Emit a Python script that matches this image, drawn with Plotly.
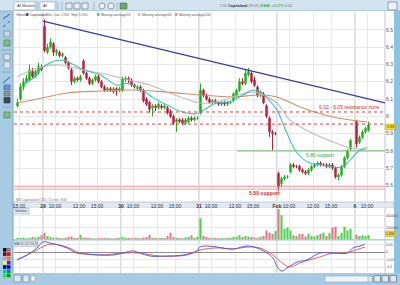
import plotly.graph_objects as go

W, H = 400, 285
FONT = "Liberation Sans"


def px(x):
    return x / W


def py(y):
    return 1 - y / H


# ---------------- data (15-minute bars, index 0 = 29th 09:00) ----------------
bar_index = list(range(-9, 103)) + list(range(104, 109))

opens = (
    [6.06, 6.10, 6.17, 6.20, 6.21, 6.26, 6.23, 6.25, 6.28]
    + [6.52, 6.37, 6.40, 6.42, 6.37, 6.37, 6.35, 6.34, 6.31, 6.27, 6.20, 6.22, 6.21,
       6.32, 6.25, 6.22, 6.19, 6.21, 6.23, 6.20, 6.17, 6.15, 6.16, 6.14, 6.16, 6.15]
    + [6.15, 6.21, 6.22, 6.21, 6.18, 6.16, 6.17, 6.15, 6.10, 6.08, 6.05, 6.06, 6.05,
       6.06, 6.05, 6.05, 6.03, 6.00, 5.97, 5.98, 5.98, 5.96, 5.97, 5.99, 5.98, 5.99]
    + [6.02, 6.15, 6.12, 6.10, 6.08, 6.09, 6.08, 6.07, 6.08, 6.07, 6.08, 6.09, 6.12,
       6.15, 6.20, 6.19, 6.24, 6.25, 6.21, 6.17, 6.13, 6.13, 6.06, 5.99, 5.91, 5.90]
    + [5.67, 5.61, 5.64, 5.65, 5.68, 5.72, 5.71, 5.71, 5.69, 5.68, 5.67, 5.69, 5.71,
       5.72, 5.73, 5.72, 5.72, 5.71, 5.72, 5.70, 5.65, 5.66, 5.71, 5.76, 5.81]
    + [5.97, 5.85, 5.88, 5.91, 5.92]
)
highs = (
    [6.10, 6.19, 6.22, 6.24, 6.30, 6.28, 6.27, 6.31, 6.30]
    + [6.56, 6.42, 6.45, 6.43, 6.39, 6.38, 6.37, 6.35, 6.32, 6.28, 6.23, 6.23, 6.24,
       6.33, 6.26, 6.23, 6.22, 6.24, 6.24, 6.21, 6.18, 6.17, 6.17, 6.17, 6.17, 6.17]
    + [6.23, 6.23, 6.23, 6.22, 6.19, 6.18, 6.18, 6.16, 6.11, 6.09, 6.07, 6.07, 6.08,
       6.07, 6.07, 6.06, 6.04, 6.01, 5.99, 5.99, 5.99, 5.99, 6.00, 6.00, 6.00, 6.00]
    + [6.19, 6.16, 6.13, 6.11, 6.10, 6.10, 6.09, 6.09, 6.09, 6.09, 6.09, 6.14, 6.16,
       6.22, 6.22, 6.27, 6.28, 6.26, 6.23, 6.18, 6.15, 6.14, 6.07, 6.00, 5.92, 5.91]
    + [5.68, 5.65, 5.66, 5.66, 5.73, 5.73, 5.72, 5.72, 5.70, 5.69, 5.70, 5.72, 5.73,
       5.74, 5.74, 5.73, 5.73, 5.73, 5.73, 5.71, 5.67, 5.72, 5.77, 5.81, 5.87]
    + [5.98, 5.89, 5.92, 5.94, 5.97]
)
lows = (
    [6.05, 6.09, 6.15, 6.19, 6.20, 6.22, 6.22, 6.24, 6.26]
    + [6.37, 6.36, 6.39, 6.35, 6.35, 6.34, 6.34, 6.30, 6.27, 6.18, 6.19, 6.20, 6.20,
       6.24, 6.21, 6.18, 6.18, 6.20, 6.19, 6.16, 6.14, 6.14, 6.14, 6.13, 6.12, 6.14]
    + [6.14, 6.20, 6.19, 6.17, 6.16, 6.15, 6.14, 6.08, 6.06, 6.02, 6.00, 6.03, 6.04,
       6.04, 6.04, 6.01, 5.99, 5.95, 5.91, 5.96, 5.95, 5.95, 5.96, 5.97, 5.97, 5.98]
    + [6.01, 6.11, 6.09, 6.07, 6.07, 6.07, 6.06, 6.06, 6.06, 6.06, 6.07, 6.08, 6.11,
       6.14, 6.18, 6.18, 6.23, 6.19, 6.17, 6.11, 6.11, 6.07, 5.99, 5.88, 5.80, 5.89]
    + [5.57, 5.59, 5.63, 5.64, 5.67, 5.70, 5.70, 5.68, 5.67, 5.66, 5.66, 5.68, 5.70,
       5.71, 5.71, 5.71, 5.70, 5.70, 5.69, 5.64, 5.63, 5.65, 5.70, 5.75, 5.80]
    + [5.82, 5.84, 5.87, 5.90, 5.91]
)
closes = (
    [6.08, 6.17, 6.20, 6.22, 6.27, 6.23, 6.26, 6.29, 6.27]
    + [6.38, 6.40, 6.43, 6.37, 6.38, 6.35, 6.36, 6.31, 6.28, 6.20, 6.22, 6.21, 6.23,
       6.25, 6.22, 6.19, 6.21, 6.23, 6.20, 6.17, 6.15, 6.16, 6.15, 6.16, 6.15, 6.16]
    + [6.22, 6.22, 6.21, 6.18, 6.17, 6.17, 6.15, 6.09, 6.07, 6.04, 6.06, 6.05, 6.07,
       6.05, 6.06, 6.02, 6.00, 5.96, 5.98, 5.97, 5.96, 5.98, 5.99, 5.98, 5.99, 5.99]
    + [6.15, 6.12, 6.10, 6.08, 6.09, 6.08, 6.07, 6.08, 6.07, 6.08, 6.08, 6.13, 6.15,
       6.20, 6.19, 6.25, 6.26, 6.20, 6.18, 6.12, 6.14, 6.08, 6.00, 5.91, 5.90, 5.90]
    + [5.59, 5.64, 5.65, 5.65, 5.72, 5.71, 5.71, 5.69, 5.68, 5.67, 5.69, 5.71, 5.72,
       5.73, 5.72, 5.72, 5.71, 5.72, 5.70, 5.65, 5.66, 5.71, 5.76, 5.80, 5.86]
    + [5.84, 5.88, 5.91, 5.93, 5.95]
)
volumes_k = (
    [30, 25, 35, 20, 30, 40, 35, 45, 70]
    + [110, 60, 40, 30, 35, 25, 20, 30, 40, 50, 30, 25, 80,
       35, 30, 25, 20, 15, 25, 20, 30, 25, 20, 15, 25, 30]
    + [40, 30, 25, 20, 30, 25, 20, 35, 40, 80, 30, 25, 20,
       30, 25, 60, 110, 40, 30, 25, 20, 35, 40, 70, 30, 45]
    + [350, 60, 40, 30, 25, 30, 20, 25, 20, 30, 25, 40, 50,
       70, 40, 60, 50, 40, 35, 30, 45, 60, 150, 110, 90, 140]
    + [500, 400, 180, 200, 150, 70, 60, 90, 90, 50, 90, 60, 50,
       70, 90, 110, 60, 110, 200, 210, 60, 110, 210, 150, 180]
    + [80, 60, 70, 60, 70]
)

ma20_x = [-6.5, -3.2, -0.8, 1.8, 5.8, 8.5, 12.8, 18.5, 24.2, 27.5, 31.8, 36.5, 41.5,
          46.0, 50.5, 53.5, 57.0, 61.8, 66.2, 69.5, 72.0, 74.2, 77.5, 80.8, 84.2, 88.5,
          91.8, 96.2, 99.5, 101.8, 105.2, 107.5]
ma20_y = [6.19, 6.23, 6.28, 6.31, 6.325, 6.31, 6.27, 6.24, 6.18, 6.19, 6.16, 6.105, 6.06,
          6.025, 6.015, 6.04, 6.075, 6.085, 6.123, 6.152, 6.14, 6.106, 6.036, 5.903, 5.788,
          5.73, 5.72, 5.707, 5.707, 5.747, 5.805, 5.82]
ma50_x = [-9.2, -1.5, 5.2, 12.8, 18.5, 24.2, 29.5, 35.2, 40.8, 46.2, 51.8, 57.5, 62.8,
          68.5, 72.5, 77.5, 81.8, 88.5, 96.2, 100.8, 104.2, 107.5]
ma50_y = [6.227, 6.285, 6.297, 6.268, 6.25, 6.227, 6.204, 6.181, 6.14, 6.106, 6.077,
          6.083, 6.112, 6.14, 6.128, 6.077, 5.979, 5.909, 5.851, 5.823, 5.811, 5.805]
ma200_x = [-9.2, -3.8, 7.5, 18.5, 29.5, 40.8, 51.8, 62.8, 71.8, 77.5, 85.2, 96.2, 107.5]
ma200_y = [6.077, 6.094, 6.135, 6.146, 6.152, 6.14, 6.123, 6.112, 6.123, 6.112, 6.054,
           5.996, 5.967]

macd_x = [-9.2, -5.8, -2.5, -0.5, 1.8, 4.5, 7.5, 10.8, 14.2, 18.5, 22.8, 26.2, 29.5,
          31.8, 35.2, 40.8, 46.2, 50.8, 51.8, 54.2, 57.5, 62.8, 67.5, 70.8, 74.2, 76.2,
          77.8, 79.2, 80.8, 84.2, 87.5, 91.8, 96.2, 100.8, 102.8, 105.2, 106.8]
macd_y = [-0.053, -0.02, 0.027, 0.067, 0.06, 0.047, 0.027, -0.007, -0.013, -0.02, -0.02,
          -0.007, 0.007, -0.007, -0.027, -0.027, -0.02, 0.007, 0.033, 0.04, 0.033, 0.02,
          0.04, 0.027, -0.007, -0.04, -0.107, -0.127, -0.107, -0.067, -0.053, -0.007,
          -0.007, -0.007, 0.027, 0.04, 0.053]
signal_x = [-9.2, -3.8, 0.8, 2.8, 7.5, 11.8, 18.5, 26.2, 31.8, 38.5, 47.5, 51.8, 57.5,
            62.8, 67.8, 71.8, 76.2, 79.2, 81.8, 85.2, 91.8, 96.2, 100.8, 102.8, 106.8]
signal_y = [-0.053, 0.0, 0.047, 0.053, 0.033, -0.007, -0.02, -0.007, -0.007, -0.027,
            -0.02, 0.013, 0.027, 0.02, 0.033, 0.027, -0.02, -0.073, -0.1, -0.073, -0.033,
            -0.007, -0.007, 0.007, 0.033]

day_labels = ["29", "30", "31", "Feb", "6"]
hour_labels = [("10:00", 4), ("12:00", 12), ("15:00", 18)]
price_ticks = [5.6, 5.7, 5.8, 5.9, 6.0, 6.1, 6.2, 6.3, 6.4, 6.5]
price_tick_text = ["5.6", "5.7", "5.8", "5.9", "6", "6.1", "6.2", "6.3", "6.4", "6.5"]
vol_ticks = [200000, 400000]
vol_tick_text = ["200000", "400000"]
macd_ticks = [0.05, 0.0, -0.05, -0.1]
macd_tick_text = ["0.05", "0", "-0.05", "-0.1"]

resistance_levels = [6.025, 5.955]
support_level = 5.80
low_support_levels = [5.593, 5.579]
trend_start = (-0.5, 6.55)
trend_end = (113.5, 6.077)
last_price = "5.93"

X_RANGE = [-10.17, 113.5]
BARS_PER_DAY = 26

# ---------------- ticks ----------------
tick_vals = [-0.5 - BARS_PER_DAY + 18]
tick_text = ["15:00"]
day_bounds = []
for d, lab in enumerate(day_labels):
    base = -0.5 + BARS_PER_DAY * d
    day_bounds.append(base)
    tick_vals.append(base)
    tick_text.append("<b>%s</b>" % lab)
    for hl, off in hour_labels:
        if base + off < X_RANGE[1] - 2:
            tick_vals.append(base + off)
            tick_text.append(hl)

# ---------------- traces ----------------
fig = go.Figure()
fig.add_trace(go.Candlestick(
    x=bar_index, open=opens, high=highs, low=lows, close=closes,
    increasing=dict(line=dict(color="#16b416", width=1), fillcolor="#16b416"),
    decreasing=dict(line=dict(color="#c41a3a", width=1), fillcolor="#c41a3a"),
    whiskerwidth=0, xaxis="x", yaxis="y", hoverinfo="skip", showlegend=False))
fig.add_trace(go.Scatter(x=ma200_x, y=ma200_y, mode="lines", xaxis="x", yaxis="y",
                         line=dict(color="#cf8f6a", width=1.1, shape="spline"), hoverinfo="skip"))
fig.add_trace(go.Scatter(x=ma50_x, y=ma50_y, mode="lines", xaxis="x", yaxis="y",
                         line=dict(color="#bdbdbd", width=1.1, shape="spline"), hoverinfo="skip"))
fig.add_trace(go.Scatter(x=ma20_x, y=ma20_y, mode="lines", xaxis="x", yaxis="y",
                         line=dict(color="#3dbdbd", width=1.1, shape="spline"), hoverinfo="skip"))

vol_colors = ["#4fd04f" if c >= o else "#dd7a8a" for o, c in zip(opens, closes)]
fig.add_trace(go.Bar(x=bar_index, y=[v * 1000 for v in volumes_k], marker_color=vol_colors,
                     marker_line_width=0, width=0.7, xaxis="x2", yaxis="y2", hoverinfo="skip"))

fig.add_trace(go.Scatter(x=signal_x, y=signal_y, mode="lines", xaxis="x3", yaxis="y3",
                         line=dict(color="#e06464", width=1, shape="spline"), hoverinfo="skip"))
fig.add_trace(go.Scatter(x=macd_x, y=macd_y, mode="lines", xaxis="x3", yaxis="y3",
                         line=dict(color="#5858e0", width=1, shape="spline"), hoverinfo="skip"))

# ---------------- chrome shapes ----------------
shapes = []


def rect(x0, y0, x1, y1, fill, line=None, lw=0, layer="below"):
    shapes.append(dict(type="rect", xref="paper", yref="paper", x0=px(x0), x1=px(x1),
                       y0=py(y1), y1=py(y0), fillcolor=fill,
                       line=dict(color=line or fill, width=lw), layer=layer))


def pline(x0, y0, x1, y1, color, lw=1, dash="solid", layer="below"):
    shapes.append(dict(type="line", xref="paper", yref="paper", x0=px(x0), x1=px(x1),
                       y0=py(y0), y1=py(y1), line=dict(color=color, width=lw, dash=dash),
                       layer=layer))


# top toolbar
rect(0, 0, 400, 11, "#d3e3f0")
pline(0, 11, 400, 11, "#8fb3cf")
rect(14, 2, 38, 10, "white", "#8aa4ba", 0.6)
rect(34.5, 2.5, 38, 9.5, "#b3d0e8")
rect(40, 2, 58, 10, "white", "#8aa4ba", 0.6)
rect(54.5, 2.5, 58, 9.5, "#b3d0e8")
pline(62, 2, 62, 10, "#9fb8cc")
rect(66, 3, 72, 9, "#e6edf3", "#5d6d7d", 0.6)
rect(74, 3, 80, 9, "#e6edf3", "#5d6d7d", 0.6)
rect(82, 3, 88, 9, "#e6edf3", "#5d6d7d", 0.6)
pline(94, 2, 94, 10, "#9fb8cc")
shapes.append(dict(type="circle", xref="paper", yref="paper", x0=px(99), x1=px(105),
                   y0=py(9), y1=py(3), fillcolor="#eef2f6", line=dict(color="#5d6d7d", width=0.6)))
shapes.append(dict(type="circle", xref="paper", yref="paper", x0=px(108), x1=px(114),
                   y0=py(9), y1=py(3), fillcolor="#eef2f6", line=dict(color="#5d6d7d", width=0.6)))
pline(117, 2, 117, 10, "#9fb8cc")
rect(120, 3, 127, 9, "#6aa86a", "#4a7a4a", 0.6)
rect(388, 2, 397, 10, "#eef2f6", "#5d6d7d", 0.6)

# main white panes
rect(13, 11, 394, 202, "white")
rect(13, 202, 394, 207.5, "#e1e9f1", "#9fb8cc", 0.6)
rect(13, 207.5, 394, 239.5, "white")
rect(13, 239.5, 394, 240.5, "#9fb8cc")
rect(13, 240.5, 394, 273, "white")
rect(394, 11, 400, 273, "#8ec2e2")
pline(13, 11, 13, 273, "#7fa6c4", 1)
for y0, y1 in [(11, 202), (207.5, 239.5), (240.5, 273)]:
    pline(385, y0, 385, y1, "#a9b9c7", 0.8)

# left toolbar icons
pline(3, 19, 10, 14, "#2f4fbf", 1)
pline(3, 27, 10, 21, "#2f4fbf", 1, "dot")
rect(4, 31, 10, 37, "#c9d5e0", "#6b7d8f", 0.6)
rect(4, 40, 10, 46, "#7cc07c", "#3f7f3f", 0.6)
for yy in [50, 72, 107]:
    pline(2, yy, 11, yy, "#7fa6c4", 0.8)
rect(4, 54, 10, 60, "#dde4ea", "#6b7d8f", 0.6)
rect(4, 62, 10, 68, "#dde4ea", "#8a98a6", 0.6)
pline(3, 83, 10, 77, "#2f4fbf", 1)
rect(4, 85, 10, 90, "#6f8fd6", "#3f5fa6", 0.6)
rect(4, 91.5, 10, 96, "#8b949d", "#59626b", 0.6)
rect(4, 97.5, 10, 103, "#3f4850", "#2a3038", 0.6)
rect(4, 112, 10, 118, "#7cc07c", "#3f7f3f", 0.6)
palette = [("#000000", "#808080"), ("#800000", "#ff0000"), ("#ff80c0", "#ff8000"),
           ("#ffff00", "#8000ff"), ("#000080", "#0000ff"), ("#00c0c0", "#008080"),
           ("#00ff00", "#00a000")]
for k, (c1, c2) in enumerate(palette):
    yy = 248 + 4.3 * k
    rect(3, yy, 6.5, yy + 3.6, c1)
    rect(7, yy, 10.5, yy + 3.6, c2)

# bottom bar
rect(14, 275, 21, 282, "#dfe8ef", "#6b7d8f", 0.6)
rect(23, 275, 29, 282, "#dfe8ef", "#6b7d8f", 0.6)
rect(31, 276, 35, 281, "white", "#8aa4ba", 0.6)
rect(325, 276, 372, 282, "#eef3f8", "#90a8c0", 0.6)
rect(368, 276, 372, 282, "#d9e6f1", "#90a8c0", 0.6)
for xx in [374, 382, 390]:
    rect(xx, 275.5, xx + 6.5, 282, "#dfe8ef", "#4d5d6d", 0.6)

# pane labels
rect(13, 208, 29, 214, "#dfe9f3", "#9bb3c8", 0.6)
rect(13, 241, 38, 246.5, "#dfe9f3", "#9bb3c8", 0.6)

# legend squares
for x0, c in [(26, "#404040"), (97, "#3dbdbd"), (138, "#bdbdbd"), (175, "#cf8f6a")]:
    rect(x0, 13.2, x0 + 2.5, 15.8, c, layer="above")

# yellow last-value tags
rect(385.5, 124, 395, 129.8, "#f3df2a", "#b09a10", 0.5, layer="above")
rect(385.5, 231, 395, 236.5, "#f3df2a", "#b09a10", 0.5, layer="above")

# day separators in all panes
for b in day_bounds:
    for xr, yr in [("x", "y domain"), ("x2", "y2 domain"), ("x3", "y3 domain")]:
        shapes.append(dict(type="line", xref=xr, yref=yr, x0=b, x1=b, y0=0, y1=1,
                           line=dict(color="#b8b8b8", width=1), layer="below"))

# analysis lines on the price pane
shapes.append(dict(type="line", xref="x", yref="y", x0=trend_start[0], y0=trend_start[1],
                   x1=trend_end[0], y1=trend_end[1], line=dict(color="#3a3aa6", width=1.2)))
for lvl in resistance_levels:
    shapes.append(dict(type="line", xref="x", yref="y", x0=X_RANGE[0], x1=X_RANGE[1],
                       y0=lvl, y1=lvl, line=dict(color="#e03a3a", width=1, dash="dot")))
shapes.append(dict(type="line", xref="x", yref="y", x0=64.2, x1=X_RANGE[1],
                   y0=support_level, y1=support_level, line=dict(color="#86c086", width=1.3)))
for lvl in low_support_levels:
    shapes.append(dict(type="line", xref="x", yref="y", x0=X_RANGE[0], x1=X_RANGE[1],
                       y0=lvl, y1=lvl, line=dict(color="#e3a0a4", width=1)))

# ---------------- annotations ----------------
ann = []


def note(x, y, s, size=4, color="#333333", xanchor="left"):
    ann.append(dict(xref="paper", yref="paper", x=px(x), y=py(y), text=s, showarrow=False,
                    font=dict(size=size, color=color, family=FONT), xanchor=xanchor,
                    yanchor="middle", borderpad=0))


note(16, 6, "All Markets", 3.6, "#333")
note(42, 6, "All", 3.6, "#333")
note(219, 6, "<span style='color:#777'>C31</span> <b>Capitaland</b> "
     "<span style='color:#777'>(SGX)</span> <span style='color:#16a016'><b>5.930</b> +0.07%</span>"
     " <span style='color:#777'>0.50</span>", 3.8)
note(15, 14.5, "Volume", 3.6, "#555")
note(29, 14.5, "Capitaland", 3.6, "#333")
note(46, 14.5, "Vol: Low 5.920  High 5.960", 3.4, "#666")
note(100, 14.5, "Moving average20", 3.6, "#555")
note(141, 14.5, "Moving average50", 3.6, "#555")
note(178, 14.5, "Moving average200", 3.6, "#555")
note(15, 199.5, "MS Capitaland (C31), 15 min, SGX", 3.3, "#777")
note(21, 211, "Volume", 3.6, "#444", "center")
note(25.5, 243.8, "MACD (12,26,9)", 3.3, "#444", "center")
note(390.2, 126.9, last_price, 3.6, "#222", "center")
note(390.2, 233.8, "1,056", 3.2, "#222", "center")

for x, y, s, c, sz in [(101.8, 6.054, "6.02 - 6.05 resistance zone", "#d42a2a", 5),
                       (91.8, 5.776, "5.80 support", "#3a9a3a", 5),
                       (73.2, 5.555, "<b>5.50 support</b>", "#d42a2a", 5.2)]:
    ann.append(dict(xref="x", yref="y", x=x, y=y, text=s, showarrow=False,
                    font=dict(size=sz, color=c, family=FONT), xanchor="center", yanchor="middle"))

# ---------------- layout ----------------
common_x = dict(range=X_RANGE, domain=[px(14), px(385)], tickvals=tick_vals,
                showgrid=True, gridcolor="#e8e8e8", gridwidth=1, zeroline=False,
                showline=False, ticks="", fixedrange=True)

fig.update_layout(
    width=W, height=H, autosize=False,
    margin=dict(l=0, r=0, t=0, b=0, pad=0),
    paper_bgcolor="#a6cbe3", plot_bgcolor="rgba(0,0,0,0)",
    showlegend=False, hovermode=False, bargap=0.2,
    boxgap=0.55, boxgroupgap=0.0,
    font=dict(family=FONT),
    xaxis=dict(**common_x, anchor="y", ticktext=tick_text, showticklabels=True, tickangle=0,
               tickfont=dict(size=5, color="#333", family=FONT),
               rangeslider=dict(visible=False)),
    xaxis2=dict(**common_x, anchor="y2", showticklabels=False),
    xaxis3=dict(**common_x, anchor="y3", showticklabels=False),
    yaxis=dict(domain=[py(202), py(12)], range=[5.5046, 6.603], side="right", anchor="x",
               tickvals=price_ticks, ticktext=price_tick_text,
               tickfont=dict(size=5, color="#555", family=FONT), showgrid=True,
               gridcolor="#e8e8e8", zeroline=False, ticks="", fixedrange=True),
    yaxis2=dict(domain=[py(239.5), py(207.5)], range=[0, 530000], side="right", anchor="x2",
                tickvals=vol_ticks, ticktext=vol_tick_text,
                tickfont=dict(size=3.6, color="#555", family=FONT), showgrid=True,
                gridcolor="#e8e8e8", zeroline=False, ticks="", fixedrange=True),
    yaxis3=dict(domain=[py(273), py(240.5)], range=[-0.14, 0.0767], side="right", anchor="x3",
                tickvals=macd_ticks, ticktext=macd_tick_text,
                tickfont=dict(size=3.6, color="#555", family=FONT), showgrid=True,
                gridcolor="#e8e8e8", zeroline=True, zerolinecolor="#8c8c8c",
                zerolinewidth=1, ticks="", fixedrange=True),
    shapes=shapes,
    annotations=ann,
)

fig.write_html("out.html", config={"displayModeBar": False, "staticPlot": True})
